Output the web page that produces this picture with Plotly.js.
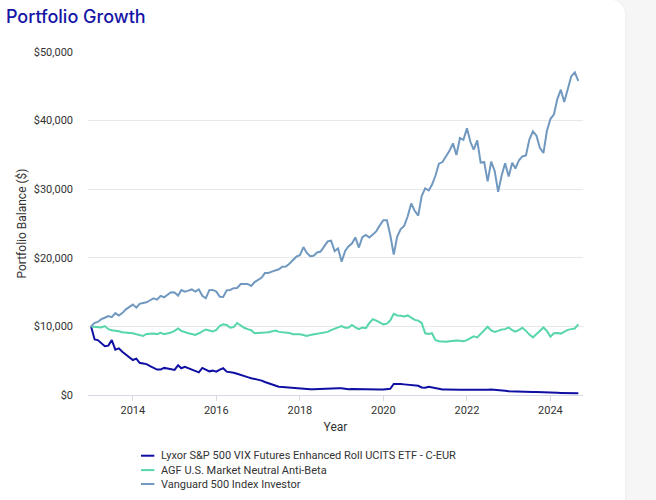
<!DOCTYPE html>
<html>
<head>
<meta charset="utf-8">
<script src="https://cdn.plot.ly/plotly-3.0.1.min.js"></script>
<style>
  html, body { margin: 0; padding: 0; width: 656px; height: 500px; overflow: hidden; background: #f6f6f7; }
  #card { position: absolute; left: 0; top: 0; width: 625px; height: 520px; background: #ffffff; border-top-right-radius: 14px; box-shadow: 1px 0 3px rgba(0,0,0,0.03); }
  #chart { position: absolute; left: 0; top: 0; width: 656px; height: 500px; }
</style>
</head>
<body>
<div id="card"></div>
<div id="chart"></div>
<script>
// Monthly series starting January 2013
var startYear = 2013;
var startMonth = 1;

var seriesNames = [
  "Lyxor S&P 500 VIX Futures Enhanced Roll UCITS ETF - C-EUR",
  "AGF U.S. Market Neutral Anti-Beta",
  "Vanguard 500 Index Investor"
];

var lyxor = [10000,8100,8000,7600,7100,7200,8000,6600,6800,6300,5850,5500,
  5100,5300,4700,4600,4500,4200,3900,3700,3700,3950,3850,3700,
  3650,4350,3900,4100,3900,3750,3550,3300,3950,3750,3450,3550,
  3400,3700,3900,3400,3350,3250,3100,2900,2700,2600,2450,2350,
  2250,2100,1900,1700,1500,1350,1200,1150,1100,1050,1000,1000,
  980,900,850,830,830,850,900,950,980,950,1050,1000,
  980,900,850,870,850,830,850,820,830,850,820,800,
  800,830,900,1600,1650,1600,1550,1500,1450,1400,1350,1100,
  1050,1200,1100,950,850,800,800,820,800,850,780,750,
  720,720,750,780,750,800,750,800,780,750,700,620,
  550,550,520,500,500,480,450,440,420,420,400,380,
  350,340,320,300,300,280,270,260,250];

var agf = [10000,9950,9900,9850,10050,9600,9450,9400,9300,9150,9100,9080,
  9000,8850,8700,8600,8900,8950,8950,8850,9050,8850,8950,9100,
  9350,9700,9350,9150,9000,8900,8750,9000,9300,9550,9400,9250,
  9500,10100,10300,10200,9800,9900,10500,10100,9800,9600,9450,9000,
  9000,9000,9100,9150,9250,9400,9200,9150,9100,9050,8850,8900,
  8850,8750,8600,8750,8850,9000,9100,9100,9200,9450,9600,9850,
  10050,9800,9800,10200,9850,9600,9850,9750,10500,11050,10850,10600,
  10300,10400,10850,11850,11600,11550,11450,11600,11300,10950,10850,10500,
  9000,8900,9000,8000,7850,7750,7750,7850,7950,7950,7900,7850,
  8000,8350,8550,8400,8900,9300,9950,9400,9200,9350,9550,9600,
  9850,9450,9250,9500,9800,9350,8800,8400,8900,9400,9850,9350,
  8500,9000,9050,8950,9200,9500,9600,9700,10300];

var vanguard = [10000,10519,10651,11049,11265,11515,11358,11937,11579,11940,12490,12858,
  13180,12728,13296,13407,13509,13813,14096,13903,14446,14242,14593,14972,
  14930,14486,15303,15058,15208,15388,15086,15406,14462,14099,15290,15319,
  15072,14327,14288,15253,15315,15571,15608,16186,16189,16191,15899,16465,
  16788,17113,17774,17792,17979,18213,18326,18707,18744,19132,19584,20161,
  20388,21564,20753,20224,20307,20775,20905,21688,22376,22503,20971,21375,
  19440,20999,21654,22073,22973,21492,23006,23341,22951,23377,23888,24736,
  25478,25473,23363,20469,23097,24177,24656,26051,27915,26858,26151,29003,
  30122,29829,30650,31996,33721,33953,34756,35596,36680,34984,37455,37194,
  38870,36878,35772,37104,33887,33937,31133,34017,32619,29614,32023,33791,
  31843,33857,33019,34225,34775,34910,37222,38434,37806,36015,35272,38471,
  40229,40925,43102,44502,42709,44823,46442,47033,45800];

var yTickVals = [0, 10000, 20000, 30000, 40000, 50000];
var yTickText = ["$0", "$10,000", "$20,000", "$30,000", "$40,000", "$50,000"];
var xTickVals = ["2014-01-01", "2016-01-01", "2018-01-01", "2020-01-01", "2022-01-01", "2024-01-01"];
var xTickText = ["2014", "2016", "2018", "2020", "2022", "2024"];

var colors = ["#0f0fa3", "#56d6a9", "#7199c0"];

function monthDates(n) {
  var out = [];
  for (var i = 0; i < n; i++) {
    var m = startMonth - 1 + i;
    var y = startYear + Math.floor(m / 12);
    var mm = (m % 12) + 1;
    out.push(y + "-" + (mm < 10 ? "0" + mm : mm) + "-01");
  }
  return out;
}

var dates = monthDates(vanguard.length);
var allSeries = [lyxor, agf, vanguard];

var traces = allSeries.map(function (s, i) {
  return {
    x: dates,
    y: s,
    type: "scatter",
    mode: "lines",
    name: seriesNames[i],
    line: { color: colors[i], width: 2 },
    hoverinfo: "skip",
    showlegend: false
  };
});

// Custom compact legend below the plot (paper coordinates)
var legendRowsY = [-0.177, -0.219, -0.2595];
var shapes = [];
var annotations = [];
seriesNames.forEach(function (name, i) {
  shapes.push({
    type: "line", xref: "paper", yref: "paper",
    x0: 0.107, x1: 0.134, y0: legendRowsY[i], y1: legendRowsY[i],
    line: { color: colors[i], width: 2 }
  });
  annotations.push({
    xref: "paper", yref: "paper",
    x: 0.143, y: legendRowsY[i],
    xanchor: "left", yanchor: "middle",
    text: name, showarrow: false,
    font: { size: 11, color: "#333333" }
  });
});

var layout = {
  width: 656,
  height: 500,
  paper_bgcolor: "rgba(0,0,0,0)",
  plot_bgcolor: "rgba(0,0,0,0)",
  margin: { l: 88, r: 73, t: 52, b: 105 },
  font: { family: "Roboto, Arial, sans-serif", size: 11, color: "#333333" },
  title: {
    text: "Portfolio Growth",
    xref: "container", yref: "container",
    x: 0.009, xanchor: "left",
    y: 0.966, yanchor: "middle",
    font: { family: "Inter, sans-serif", size: 18, color: "#1616a6", weight: 500 }
  },
  xaxis: {
    type: "date",
    range: ["2012-12-05", "2024-10-12"],
    tickvals: xTickVals,
    ticktext: xTickText,
    showgrid: false,
    showline: true,
    linecolor: "#d6d9e3",
    linewidth: 1,
    ticks: "outside",
    ticklen: 5,
    tickcolor: "#d6d9e3",
    tickfont: { size: 11, color: "#333333" },
    zeroline: false,
    title: { text: "Year", font: { size: 12, color: "#333333" }, standoff: 6 }
  },
  yaxis: {
    range: [0, 50000],
    tickvals: yTickVals,
    ticktext: yTickText,
    showgrid: true,
    gridcolor: "#e8e8e8",
    gridwidth: 1,
    zeroline: false,
    showline: false,
    ticks: "",
    ticklabelstandoff: 14,
    tickfont: { size: 11, color: "#333333" },
    title: { text: "Portfolio Balance ($)", font: { size: 12, color: "#333333" }, standoff: 4 }
  },
  showlegend: false,
  shapes: shapes,
  annotations: annotations
};

Plotly.newPlot("chart", traces, layout, { displayModeBar: false, staticPlot: true });
</script>
</body>
</html>
